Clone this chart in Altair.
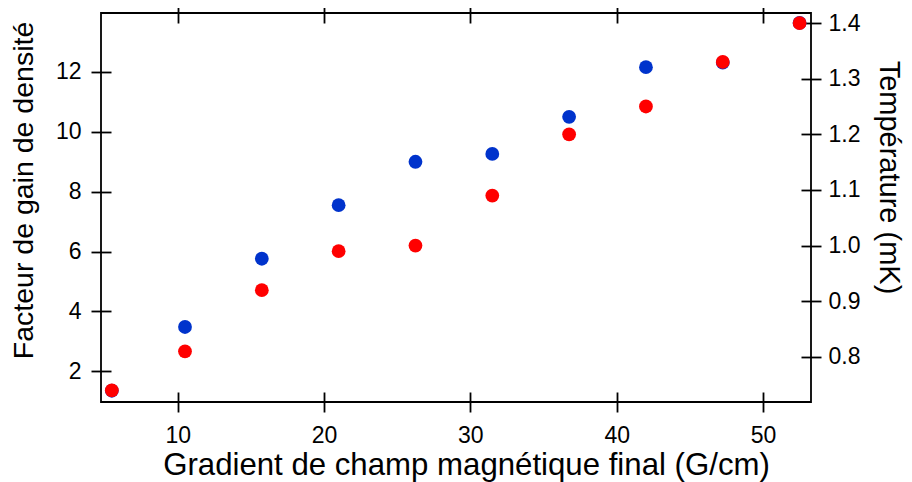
import altair as alt
import pandas as pd

# Data
gradient = [5.5, 10.5, 15.75, 21.0, 26.25, 31.5, 36.75, 42.0, 47.25, 52.5]
gain = [1.35, 3.48, 5.76, 7.55, 9.0, 9.26, 10.5, 12.16, 12.31, 13.64]
temperature = [0.74, 0.81, 0.92, 0.99, 1.00, 1.09, 1.20, 1.25, 1.33, 1.40]

x_ticks = [10, 20, 30, 40, 50]
gain_ticks = [2, 4, 6, 8, 10, 12]
temp_ticks = [0.8, 0.9, 1.0, 1.1, 1.2, 1.3, 1.4]

df = pd.DataFrame({"g": gradient, "gain": gain, "temp": temperature})

FONT = "Liberation Sans"
xscale = alt.Scale(domain=[4.76, 53.28], zero=False, nice=False)

common_axis = dict(
    offset=-10, tickSize=20, domain=False, grid=False,
    tickColor="black", tickWidth=1.8, labelColor="black",
    labelFont=FONT, labelFontSize=23, titleFont=FONT,
    titleFontWeight="normal", titleColor="black",
)

blue = alt.Chart(df).mark_circle(size=190, opacity=1, color="#0033cc").encode(
    x=alt.X("g:Q", scale=xscale, axis=alt.Axis(
        orient="bottom", values=x_ticks, title="Gradient de champ magnétique final (G/cm)",
        labelPadding=12, titleFontSize=31.2, titleBaseline="alphabetic",
        titleX=365, titleY=82, **common_axis)),
    y=alt.Y("gain:Q", scale=alt.Scale(domain=[0.974, 13.97], zero=False, nice=False),
            axis=alt.Axis(orient="left", values=gain_ticks, title="Facteur de gain de densité",
                          labelPadding=10, titleFontSize=28.5, titleAngle=270,
                          titleBaseline="alphabetic", titleAlign="center",
                          titleX=-79, titleY=177, **common_axis)),
)

red = alt.Chart(df).mark_circle(size=190, opacity=1, color="#ff0000").encode(
    x=alt.X("g:Q", scale=xscale, axis=alt.Axis(
        orient="top", values=x_ticks, labels=False, title=None,
        **common_axis)),
    y=alt.Y("temp:Q", scale=alt.Scale(domain=[0.719, 1.418], zero=False, nice=False),
            axis=alt.Axis(orient="right", values=temp_ticks, format=".1f", title="Température (mK)",
                          labelPadding=7, titleFontSize=29, titleAngle=90,
                          titleBaseline="alphabetic", titleAlign="center",
                          titleX=78, titleY=164, **common_axis)),
)

chart = alt.layer(blue, red).resolve_scale(y="independent").resolve_axis(
    x="independent", y="independent"
).properties(
    width=710, height=389,
    autosize=alt.AutoSizeParams(type="none"),
    padding={"left": 93, "top": 5, "right": 93, "bottom": 90},
    background="white",
).configure_view(stroke="black", strokeWidth=1.8)

chart.save("out.html", embed_options={"renderer": "svg", "actions": False})
